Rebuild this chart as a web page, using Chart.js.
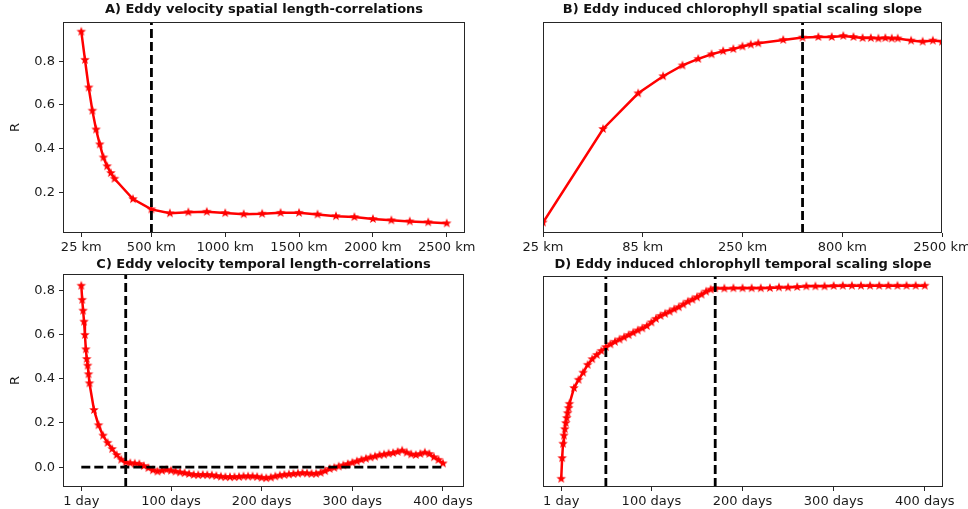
<!DOCTYPE html>
<html>
<head>
<meta charset="utf-8">
<script src="https://cdn.jsdelivr.net/npm/chart.js@4.4.0/dist/chart.umd.min.js"></script>
<style>
  body { margin: 0; background: #fff; width: 968px; height: 509px; position: relative; overflow: hidden; }
  canvas { position: absolute; }
</style>
</head>
<body>
<canvas id="chartA" width="484" height="255" style="left:0;top:0"></canvas>
<canvas id="chartB" width="484" height="255" style="left:484px;top:0"></canvas>
<canvas id="chartC" width="484" height="254" style="left:0;top:255px"></canvas>
<canvas id="chartD" width="484" height="254" style="left:484px;top:255px"></canvas>
<script>
// ---- data ----
// A) spatial length-correlation of eddy velocity
const distA = [25, 50, 75, 100, 125, 150, 175, 200, 225, 250, 375, 500, 625, 750, 875, 1000,
    1125, 1250, 1375, 1500, 1625, 1750, 1875, 2000, 2125, 2250, 2375, 2500];
const corrA = [0.935, 0.806, 0.680, 0.574, 0.488, 0.420, 0.360, 0.320, 0.289, 0.263, 0.170, 0.123,
    0.105, 0.110, 0.112, 0.106, 0.101, 0.103, 0.107, 0.107, 0.100, 0.092, 0.088, 0.079, 0.073,
    0.068, 0.064, 0.059];
const tickValsA = [25, 500, 1000, 1500, 2000, 2500];
const tickLabelsA = ["25 km", "500 km", "1000 km", "1500 km", "2000 km", "2500 km"];
const cutA = 500;

// B) chlorophyll spatial scaling slope (no y ticks in the figure, relative units)
const distB = [25, 50, 75, 100, 125, 150, 175, 200, 225, 250, 275, 300, 400, 500, 600, 700, 800,
    900, 1000, 1100, 1200, 1300, 1400, 1500, 1750, 2000, 2250, 2500];
const slopeB = [0.050, 0.493, 0.662, 0.743, 0.794, 0.825, 0.847, 0.862, 0.872, 0.884, 0.893, 0.899,
    0.915, 0.926, 0.929, 0.929, 0.934, 0.929, 0.924, 0.924, 0.922, 0.924, 0.922, 0.922, 0.912,
    0.907, 0.912, 0.907];
const tickValsB = [25, 79.06, 250, 790.6, 2500];
const tickLabelsB = ["25 km", "85 km", "250 km", "800 km", "2500 km"];
const cutB = 500;

// C) temporal length-correlation of eddy velocity
const daysC = [1, 2, 3, 4, 5, 6, 7, 8, 9, 10, 15, 20, 25, 30, 35, 40, 45, 50, 55, 60, 65, 70, 75,
    80, 85, 90, 95, 100, 105, 110, 115, 120, 125, 130, 135, 140, 145, 150, 155, 160, 165, 170,
    175, 180, 185, 190, 195, 200, 205, 210, 215, 220, 225, 230, 235, 240, 245, 250, 255, 260,
    265, 270, 275, 280, 285, 290, 295, 300, 305, 310, 315, 320, 325, 330, 335, 340, 345, 350,
    355, 360, 365, 370, 375, 380, 385, 390, 395, 400];
const corrC = [0.822, 0.758, 0.709, 0.659, 0.599, 0.534, 0.490, 0.460, 0.421, 0.380,
    0.259, 0.190, 0.143, 0.110, 0.082, 0.055, 0.034, 0.021, 0.018, 0.016, 0.014, 0.005, -0.004,
    -0.014, -0.020, -0.016, -0.012, -0.016, -0.020, -0.024, -0.027, -0.031, -0.035, -0.036,
    -0.035, -0.036, -0.037, -0.040, -0.043, -0.045, -0.045, -0.045, -0.044, -0.042, -0.042,
    -0.042, -0.044, -0.048, -0.050, -0.047, -0.042, -0.038, -0.035, -0.033, -0.031, -0.029,
    -0.027, -0.028, -0.030, -0.030, -0.026, -0.018, -0.008, -0.003, 0.003, 0.008, 0.014, 0.020,
    0.026, 0.033, 0.038, 0.044, 0.048, 0.054, 0.057, 0.061, 0.064, 0.069, 0.075, 0.066, 0.058,
    0.055, 0.060, 0.066, 0.060, 0.045, 0.033, 0.017];
const tickValsC = [0, 0.2, 0.4, 0.6, 0.8];
const tickLabelsC = ["0.0", "0.2", "0.4", "0.6", "0.8"];
const cutC = 50;

// D) chlorophyll temporal scaling slope (relative units)
const daysD = [1, 2, 3, 4, 5, 6, 7, 8, 9, 10, 15, 20, 25, 30, 35, 40, 45, 50, 55, 60, 65, 70, 75,
    80, 85, 90, 95, 100, 105, 110, 115, 120, 125, 130, 135, 140, 145, 150, 155, 160, 165, 170,
    180, 190, 200, 210, 220, 230, 240, 250, 260, 270, 280, 290, 300, 310, 320, 330, 340, 350,
    360, 370, 380, 390, 400];
const slopeD = [0.039, 0.137, 0.205, 0.244, 0.274, 0.303, 0.327, 0.350, 0.374, 0.394,
    0.469, 0.508, 0.542, 0.579, 0.606, 0.626, 0.645, 0.663, 0.676, 0.688, 0.699, 0.709, 0.720,
    0.731, 0.742, 0.752, 0.763, 0.780, 0.797, 0.811, 0.821, 0.831, 0.842, 0.852, 0.865, 0.878,
    0.888, 0.899, 0.912, 0.926, 0.936, 0.942,
    0.941, 0.942, 0.942, 0.942, 0.942, 0.943, 0.946, 0.946, 0.948, 0.951, 0.951, 0.951, 0.953,
    0.954, 0.954, 0.954, 0.954, 0.954, 0.954, 0.954, 0.954, 0.954, 0.954];
const cutsD = [50, 170];

const dayTicks = [1, 100, 200, 300, 400];
const dayLabels = ["1 day", "100 days", "200 days", "300 days", "400 days"];

// ---- styling ----
Chart.defaults.font.family = '"DejaVu Sans", sans-serif';
Chart.defaults.color = '#1a1a1a';
const tickFont = { size: 13 };
const axisColor = '#262626';

// filled 5-point star, like matplotlib's '*' marker
function makeStar(r, color) {
    const c = document.createElement('canvas');
    const s = Math.ceil(r * 2) + 2;
    c.width = s; c.height = s;
    const g = c.getContext('2d');
    g.fillStyle = color;
    g.beginPath();
    for (let i = 0; i < 10; i++) {
        const rad = i % 2 === 0 ? r : r * 0.42;
        const a = -Math.PI / 2 + i * Math.PI / 5;
        const px = s / 2 + rad * Math.cos(a), py = s / 2 + rad * Math.sin(a);
        if (i === 0) g.moveTo(px, py); else g.lineTo(px, py);
    }
    g.closePath();
    g.fill();
    return c;
}
const star = makeStar(5, '#ff0000');

const frame = {
    id: 'frame',
    afterDraw(chart) {
        const a = chart.chartArea, ctx = chart.ctx;
        ctx.save();
        ctx.strokeStyle = axisColor;
        ctx.lineWidth = 1;
        ctx.strokeRect(Math.round(a.left) + 0.5, Math.round(a.top) + 0.5,
            Math.round(a.right - a.left) - 1, Math.round(a.bottom - a.top) - 1);
        ctx.restore();
    }
};

function pairs(xs, ys) {
    return xs.map((x, i) => ({ x: x, y: ys[i] }));
}

function redSeries(data) {
    return {
        data: data, borderColor: '#ff0000', borderWidth: 2.5, tension: 0,
        pointStyle: star, pointRadius: 4, order: 1
    };
}

function dashed(data) {
    return {
        data: data, borderColor: '#000', borderWidth: 2.8, borderDash: [9, 4],
        pointRadius: 0, tension: 0, order: 0
    };
}

function fixedTicks(vals) {
    return function (scale) { scale.ticks = vals.map(v => ({ value: v })); };
}

function xAxis(type, min, max, vals, labels) {
    return {
        type: type, min: min, max: max,
        afterBuildTicks: fixedTicks(vals),
        ticks: { callback: (v, i) => labels[i], font: tickFont, color: '#1a1a1a', maxRotation: 0, autoSkip: false, padding: 3 },
        grid: { display: true, drawOnChartArea: false, tickLength: 4, color: axisColor },
        border: { display: false },
        afterFit(scale) { scale.height = 22; scale.paddingLeft = 0; scale.paddingRight = 0; }
    };
}

function yAxisR(min, max, vals, labels) {
    return {
        min: min, max: max,
        afterBuildTicks: fixedTicks(vals),
        ticks: { callback: (v, i) => labels[i], font: tickFont, color: '#1a1a1a', padding: 4 },
        grid: { display: true, drawOnChartArea: false, tickLength: 4, color: axisColor },
        border: { display: false },
        title: { display: true, text: 'R', font: { size: 13 }, color: '#1a1a1a', padding: { top: 8, bottom: 0 } },
        afterFit(scale) { scale.width = 63; scale.paddingTop = 0; scale.paddingBottom = 0; }
    };
}

function hiddenY(min, max) {
    return { display: false, min: min, max: max };
}

function makeChart(id, title, titlePad, datasets, scales, padding) {
    return new Chart(document.getElementById(id), {
        type: 'line',
        data: { datasets: datasets },
        options: {
            responsive: false,
            devicePixelRatio: 1,
            animation: false,
            layout: { padding: padding },
            scales: scales,
            plugins: {
                legend: { display: false },
                tooltip: { enabled: false },
                title: {
                    display: true, text: title, fullSize: false, color: '#111',
                    font: { size: 13, weight: 'bold', lineHeight: 1.2 }, padding: titlePad
                }
            }
        },
        plugins: [frame]
    });
}

// A
const yMinA = 0.015, yMaxA = 0.979;
makeChart('chartA', 'A) Eddy velocity spatial length-correlations', { top: 2, bottom: 4.4 },
    [redSeries(pairs(distA, corrA)), dashed([{ x: cutA, y: yMinA }, { x: cutA, y: yMaxA }])],
    {
        x: xAxis('linear', -99, 2624, tickValsA, tickLabelsA),
        y: yAxisR(yMinA, yMaxA, [0.2, 0.4, 0.6, 0.8], ["0.2", "0.4", "0.6", "0.8"])
    },
    { left: 0, right: 19, top: 0, bottom: 0 });

// B
makeChart('chartB', 'B) Eddy induced chlorophyll spatial scaling slope', { top: 2, bottom: 4.4 },
    [redSeries(pairs(distB, slopeB)), dashed([{ x: cutB, y: 0 }, { x: cutB, y: 1 }])],
    {
        x: xAxis('logarithmic', 25, 2500, tickValsB, tickLabelsB),
        y: hiddenY(0, 1)
    },
    { left: 59, right: 26, top: 0, bottom: 0 });

// C
const yMinC = -0.09, yMaxC = 0.875;
makeChart('chartC', 'C) Eddy velocity temporal length-correlations', { top: 2, bottom: 1.4 },
    [redSeries(pairs(daysC, corrC)),
     dashed([{ x: cutC, y: yMinC }, { x: cutC, y: yMaxC }]),
     dashed([{ x: daysC[0], y: 0 }, { x: daysC[daysC.length - 1], y: 0 }])],
    {
        x: xAxis('linear', -19.2, 423.2, dayTicks, dayLabels),
        y: yAxisR(yMinC, yMaxC, tickValsC, tickLabelsC)
    },
    { left: 0, right: 20, top: 0, bottom: 0 });

// D
makeChart('chartD', 'D) Eddy induced chlorophyll temporal scaling slope', { top: 2, bottom: 3.4 },
    [redSeries(pairs(daysD, slopeD)),
     dashed([{ x: cutsD[0], y: 0 }, { x: cutsD[0], y: 1 }]),
     dashed([{ x: cutsD[1], y: 0 }, { x: cutsD[1], y: 1 }])],
    {
        x: xAxis('linear', -19, 420, dayTicks, dayLabels),
        y: hiddenY(0, 1)
    },
    { left: 59, right: 25, top: 0, bottom: 0 });
</script>
</body>
</html>
